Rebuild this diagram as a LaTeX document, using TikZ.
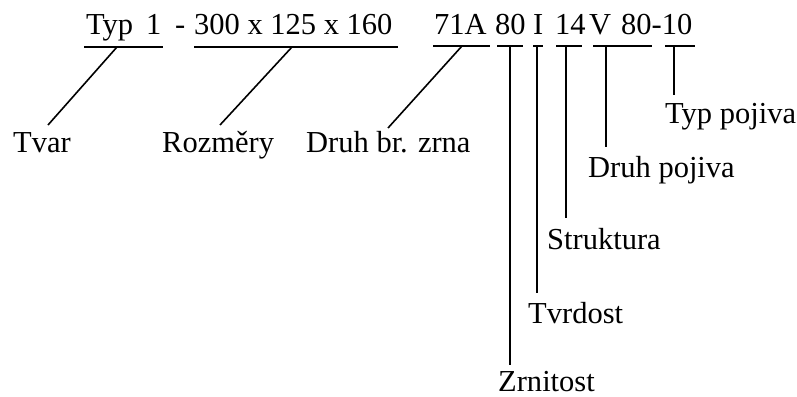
\documentclass[tikz,border=0pt]{standalone}
\usepackage{fontspec}
\setmainfont{Liberation Serif}
\begin{document}
\begin{tikzpicture}[x=1pt,y=-1pt,
  txt/.style={anchor=base west,inner sep=0pt,font=\fontsize{30.5}{36}\selectfont},
  uline/.style={line width=2pt},
  lead/.style={line width=1.6pt}]
\useasboundingbox (0,0) rectangle (797,396);
% code text
\node[txt] (typ) at (86,35) {Typ};
\node[txt] (one) at (146,35) {1};
\node[txt] (dash) at (175,35) {-};
\node[txt] (dim) at (194,35) {300 x 125 x 160};
\node[txt] (grain) at (434,35) {71A};
\node[txt] (size) at (495,35) {80};
\node[txt] (hard) at (533,35) {I};
\node[txt] (struct) at (555,35) {14};
\node[txt] (bond) at (589,35) {V};
\node[txt] (bondt) at (621,35) {80-10};
% underlines
\draw[uline] (84,47) -- (163,47);
\draw[uline] (194,47) -- (398,47);
\draw[uline] (433,46) -- (490,46);
\draw[uline] (497,46) -- (523,46);
\draw[uline] (533,46) -- (543,46);
\draw[uline] (556,46) -- (582,46);
\draw[uline] (593,46) -- (652,46);
\draw[uline] (665,46) -- (695,46);
% attach points
\coordinate (a1) at (117,47);
\coordinate (a2) at (292,47);
\coordinate (a3) at (462,46);
\coordinate (a4) at (510,46);
\coordinate (a5) at (537,46);
\coordinate (a6) at (566,46);
\coordinate (a7) at (606,46);
\coordinate (a8) at (674,46);
% labels
\node[txt] (tvar) at (13,152) {Tvar};
\node[txt] (rozm) at (162,152) {Rozměry};
\node[txt] (druhz) at (306,152) {Druh br. zrna};
\node[txt] (typp) at (665,123) {Typ pojiva};
\node[txt] (druhp) at (588,177) {Druh pojiva};
\node[txt] (strk) at (547,249) {Struktura};
\node[txt] (tvrd) at (528,323) {Tvrdost};
\node[txt] (zrn) at (498,391) {Zrnitost};
% leader ends
\coordinate (e1) at (48,125);
\coordinate (e2) at (220,125);
\coordinate (e3) at (388,128);
\coordinate (e4) at (510,365);
\coordinate (e5) at (537,293);
\coordinate (e6) at (566,218);
\coordinate (e7) at (606,147);
\coordinate (e8) at (674,95);
\draw[lead] (a1) -- (e1);
\draw[lead] (a2) -- (e2);
\draw[lead] (a3) -- (e3);
\draw[lead] (a4) -- (e4);
\draw[lead] (a5) -- (e5);
\draw[lead] (a6) -- (e6);
\draw[lead] (a7) -- (e7);
\draw[lead] (a8) -- (e8);
\end{tikzpicture}
\end{document}
